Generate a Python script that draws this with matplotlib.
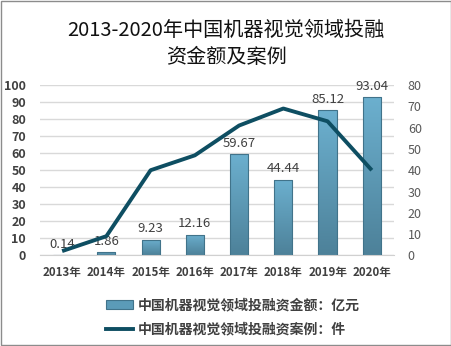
import matplotlib
matplotlib.use("Agg")
import matplotlib.pyplot as plt
import numpy as np
from matplotlib.colors import LinearSegmentedColormap
from matplotlib.patches import Rectangle
from matplotlib.lines import Line2D

plt.rcParams["font.family"] = ["Noto Sans CJK SC", "DejaVu Sans"]

years = ["2013年", "2014年", "2015年", "2016年", "2017年", "2018年", "2019年", "2020年"]
amounts = [0.14, 1.86, 9.23, 12.16, 59.67, 44.44, 85.12, 93.04]
cases = [2, 9, 40, 47, 61, 69, 63, 40]

title = "2013-2020年中国机器视觉领域投融\n资金额及案例"
bar_label = "中国机器视觉领域投融资金额：亿元"
line_label = "中国机器视觉领域投融资案例：件"

BAR_EDGE = "#41738a"
LINE_COLOR = "#0e4e62"
TEXT = "#404040"

fig = plt.figure(figsize=(4.52, 3.46), dpi=100)
fig.patches.append(Rectangle((0.002, 0.003), 0.995, 0.994, transform=fig.transFigure,
                             fill=False, edgecolor="#8c8c8c", linewidth=1.0))

fig.text(0.5, 0.873, title, ha="center", va="center", fontsize=14.5,
         color="#111111", linespacing=1.4)

ax = fig.add_axes([0.0885, 0.262, 0.783, 0.492])
x = np.arange(len(years))

bars = ax.bar(x, amounts, width=0.41, facecolor="none", edgecolor=BAR_EDGE,
              linewidth=0.8, zorder=3)

# vertical gradient fill for the bars
cmap = LinearSegmentedColormap.from_list("bar", ["#4d8199", "#6cb0cf"])
grad = np.linspace(0, 1, 256).reshape(-1, 1)
for b in bars:
    im = ax.imshow(grad, cmap=cmap, origin="lower", aspect="auto", zorder=2,
                   extent=[b.get_x(), b.get_x() + b.get_width(), 0, b.get_height()])
    im.set_clip_path(b)

for xi, v in zip(x, amounts):
    ax.text(xi, v + 2.5, f"{v:.2f}", ha="center", va="bottom", fontsize=9.5,
            color=TEXT, zorder=4)

ax.set_xlim(-0.5, len(years) - 0.5)
ax.set_ylim(0, 100)
ax.set_yticks(np.arange(0, 101, 10))
ax.set_xticks(x)
ax.set_xticklabels(years, fontsize=8.3, fontweight="bold", color=TEXT)
ax.tick_params(axis="y", labelsize=9, labelcolor=TEXT, length=0, pad=10)
ax.tick_params(axis="x", length=0, pad=8)
for lbl in ax.get_yticklabels():
    lbl.set_fontweight("bold")
ax.grid(axis="y", color="#d9d9d9", linewidth=1.0, zorder=0)
ax.set_axisbelow(True)
for s in ["left", "right", "top"]:
    ax.spines[s].set_visible(False)
ax.spines["bottom"].set_color("#d0d0d0")

ax2 = ax.twinx()
ax2.plot(x, cases, color=LINE_COLOR, linewidth=2.8, solid_capstyle="butt", zorder=5)
ax2.set_ylim(0, 80)
ax2.set_yticks(np.arange(0, 81, 10))
ax2.tick_params(axis="y", labelsize=9, labelcolor="#595959", length=0, pad=10)
for s in ["left", "right", "top", "bottom"]:
    ax2.spines[s].set_visible(False)

handles = [
    Rectangle((0, 0), 1, 1, facecolor="#5b9bb8", edgecolor=BAR_EDGE, linewidth=0.8),
    Line2D([0], [0], color=LINE_COLOR, linewidth=2.8),
]
fig.legend(handles, [bar_label, line_label], loc="upper left",
           bbox_to_anchor=(0.235, 0.138), frameon=False, ncol=1,
           prop={"size": 10, "weight": "bold"}, labelcolor=TEXT,
           handlelength=1.9, handleheight=0.55, handletextpad=0.35,
           labelspacing=0.75, borderaxespad=0, borderpad=0)

fig.savefig("out.png", dpi=100)
